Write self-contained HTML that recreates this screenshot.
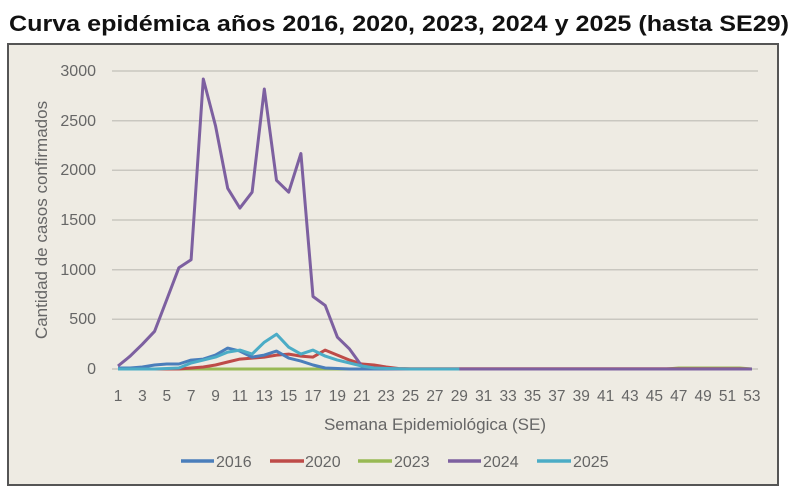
<!DOCTYPE html>
<html><head><style>
body{margin:0;width:798px;height:490px;background:#fff;overflow:hidden;font-family:"Liberation Sans",sans-serif}
</style></head><body>
<svg width="798" height="490" xmlns="http://www.w3.org/2000/svg" font-family="Liberation Sans, sans-serif">
<text x="399" y="31" text-anchor="middle" font-size="22" font-weight="bold" fill="#111" textLength="780" lengthAdjust="spacingAndGlyphs">Curva epidémica años 2016, 2020, 2023, 2024 y 2025 (hasta SE29)</text>
<rect x="8" y="44" width="770" height="441" fill="#eeebe3" stroke="#555" stroke-width="2"/>
<g stroke="#c9c7c0" stroke-width="1.5">
<line x1="112" x2="758" y1="71" y2="71"/><line x1="112" x2="758" y1="120.7" y2="120.7"/>
<line x1="112" x2="758" y1="170.3" y2="170.3"/><line x1="112" x2="758" y1="220" y2="220"/>
<line x1="112" x2="758" y1="269.7" y2="269.7"/><line x1="112" x2="758" y1="319.3" y2="319.3"/>
<line x1="112" x2="758" y1="369" y2="369"/></g>
<g font-size="16" fill="#666" text-anchor="end">
<text x="96" y="76">3000</text><text x="96" y="126">2500</text><text x="96" y="175">2000</text>
<text x="96" y="225">1500</text><text x="96" y="275">1000</text><text x="96" y="324">500</text><text x="96" y="374">0</text></g>
<text transform="translate(47,220) rotate(-90)" text-anchor="middle" font-size="17" fill="#666">Cantidad de casos confirmados</text>
<g id="xl" font-size="15.5" fill="#666" text-anchor="middle"></g>
<text x="435" y="430" text-anchor="middle" font-size="17" fill="#666">Semana Epidemiológica (SE)</text>
<g id="series" fill="none" stroke-width="3" stroke-linejoin="round"></g>
<g font-size="16" fill="#666" stroke-width="3.5">
<line x1="181" x2="214" y1="461" y2="461" stroke="#4a7ebb"/><text x="216" y="467">2016</text>
<line x1="270" x2="304" y1="461" y2="461" stroke="#be4b48"/><text x="305" y="467">2020</text>
<line x1="358" x2="392" y1="461" y2="461" stroke="#98b954"/><text x="394" y="467">2023</text>
<line x1="448" x2="481" y1="461" y2="461" stroke="#7d60a0"/><text x="483" y="467">2024</text>
<line x1="537" x2="571" y1="461" y2="461" stroke="#4bacc6"/><text x="573" y="467">2025</text>
</g>
</svg>
<script>
const X=w=>118+(w-1)*12.19, Y=v=>369-v*0.0993;
let xl=document.getElementById('xl'),s='';
for(let w=1;w<=53;w+=2)s+=`<text x="${X(w)}" y="401">${w}</text>`;
xl.innerHTML=s;
function pad(a,n,f){a=a.slice();while(a.length<n)a.push(f);return a;}
const d={
'#98b954':pad([],53,0).map((v,i)=>i>=46&&i<=51?10:0),
'#be4b48':pad([0,0,0,0,0,0,10,20,40,70,100,110,120,140,150,130,120,190,140,90,50,40,20,5],52,3).concat([0]),
'#4a7ebb':pad([10,10,20,40,50,50,90,100,140,210,180,120,140,180,110,80,40,10,5],53,0),
'#7d60a0':pad([30,130,250,380,700,1020,1100,2920,2450,1820,1620,1780,2820,1900,1780,2170,730,640,320,200,30,10,5],53,0),
'#4bacc6':pad([0,0,0,0,5,10,60,90,120,170,190,150,270,350,220,150,190,130,90,60,30,10,5,2,0,0,0,0,0])
};
let g='';
for(const c in d){g+=`<polyline stroke="${c}" points="${d[c].map((v,i)=>X(i+1).toFixed(1)+','+Y(v).toFixed(1)).join(' ')}"/>`;}
document.getElementById('series').innerHTML=g;
</script>
</body></html>
